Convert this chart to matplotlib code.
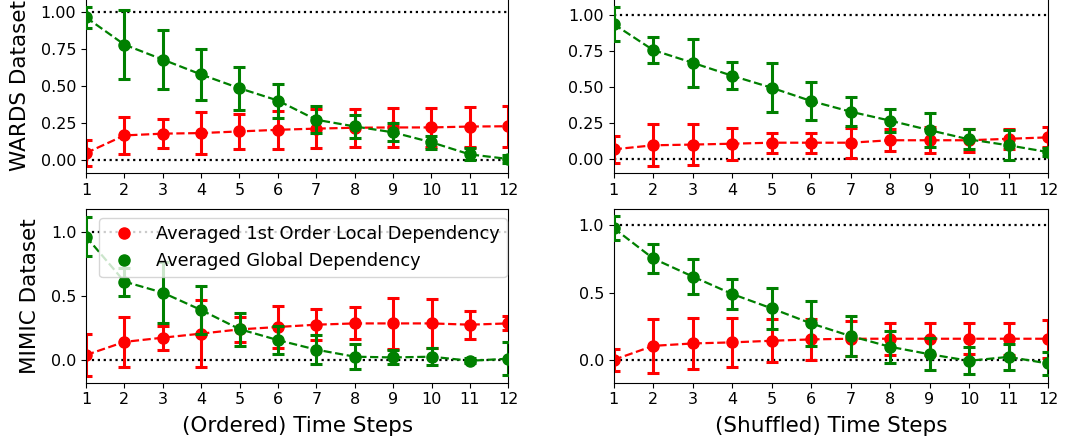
import matplotlib
matplotlib.use('Agg')
import matplotlib.pyplot as plt
from matplotlib.lines import Line2D

steps = list(range(1, 13))

# WARDS, ordered
wards_ord_local = [0.047, 0.166, 0.178, 0.182, 0.193, 0.204, 0.212, 0.218, 0.220, 0.220, 0.226, 0.228]
wards_ord_local_err = [0.09, 0.125, 0.10, 0.14, 0.12, 0.13, 0.13, 0.13, 0.13, 0.13, 0.135, 0.14]
wards_ord_global = [0.964, 0.78, 0.679, 0.578, 0.485, 0.402, 0.272, 0.227, 0.187, 0.12, 0.038, 0.007]
wards_ord_global_err = [0.07, 0.235, 0.20, 0.17, 0.145, 0.115, 0.09, 0.08, 0.06, 0.045, 0.04, 0.03]

# WARDS, shuffled
wards_shuf_local = [0.067, 0.095, 0.10, 0.106, 0.113, 0.113, 0.113, 0.13, 0.13, 0.13, 0.14, 0.15]
wards_shuf_local_err = [0.095, 0.145, 0.14, 0.11, 0.07, 0.07, 0.105, 0.075, 0.09, 0.08, 0.07, 0.07]
wards_shuf_global = [0.935, 0.755, 0.667, 0.577, 0.494, 0.402, 0.328, 0.266, 0.20, 0.136, 0.095, 0.048]
wards_shuf_global_err = [0.12, 0.09, 0.165, 0.095, 0.17, 0.13, 0.10, 0.08, 0.12, 0.07, 0.105, 0.03]

# MIMIC, ordered
mimic_ord_local = [0.037, 0.14, 0.173, 0.205, 0.238, 0.257, 0.275, 0.285, 0.285, 0.285, 0.275, 0.285]
mimic_ord_local_err = [0.165, 0.195, 0.095, 0.265, 0.10, 0.165, 0.12, 0.125, 0.20, 0.19, 0.11, 0.055]
mimic_ord_global = [0.966, 0.613, 0.526, 0.39, 0.24, 0.154, 0.079, 0.024, 0.018, 0.024, -0.008, 0.008]
mimic_ord_global_err = [0.15, 0.11, 0.24, 0.185, 0.13, 0.11, 0.115, 0.10, 0.055, 0.065, 0.02, 0.13]

# MIMIC, shuffled
mimic_shuf_local = [0.0, 0.104, 0.122, 0.13, 0.142, 0.152, 0.157, 0.157, 0.157, 0.157, 0.157, 0.157]
mimic_shuf_local_err = [0.08, 0.20, 0.19, 0.18, 0.16, 0.155, 0.13, 0.12, 0.12, 0.115, 0.12, 0.14]
mimic_shuf_global = [0.98, 0.754, 0.62, 0.49, 0.383, 0.271, 0.177, 0.097, 0.042, -0.007, 0.022, -0.027]
mimic_shuf_global_err = [0.09, 0.11, 0.13, 0.115, 0.155, 0.165, 0.15, 0.12, 0.118, 0.10, 0.097, 0.085]

legend_labels = ["Averaged 1st Order Local Dependency", "Averaged Global Dependency"]
row_labels = ["WARDS Dataset", "MIMIC Dataset"]
col_labels = ["(Ordered) Time Steps", "(Shuffled) Time Steps"]

W, H = 1065, 444
fig = plt.figure(figsize=(W / 100, H / 100), dpi=100)


def add_axes_px(left, top, right, bottom):
    return fig.add_axes([left / W, 1 - bottom / H, (right - left) / W, (bottom - top) / H])


panels = [
    # (box px, ylim, yticks, data)
    ((86, -2, 508, 173), (-0.088, 1.095), [0.0, 0.25, 0.5, 0.75, 1.0], "{:.2f}",
     wards_ord_local, wards_ord_local_err, wards_ord_global, wards_ord_global_err),
    ((613.7, -2, 1048, 173), (-0.097, 1.116), [0.0, 0.25, 0.5, 0.75, 1.0], "{:.2f}",
     wards_shuf_local, wards_shuf_local_err, wards_shuf_global, wards_shuf_global_err),
    ((86, 209.3, 508.3, 382.7), (-0.18, 1.18), [0.0, 0.5, 1.0], "{:.1f}",
     mimic_ord_local, mimic_ord_local_err, mimic_ord_global, mimic_ord_global_err),
    ((613.7, 209.3, 1048, 382.7), (-0.17, 1.12), [0.0, 0.5, 1.0], "{:.1f}",
     mimic_shuf_local, mimic_shuf_local_err, mimic_shuf_global, mimic_shuf_global_err),
]

axes = []
for i, (box, ylim, yt, fmt, lv, le, gv, ge) in enumerate(panels):
    ax = add_axes_px(*box)
    axes.append(ax)
    ax.axhline(1.0, color='black', linestyle=':', linewidth=1.6, zorder=1)
    ax.axhline(0.0, color='black', linestyle=':', linewidth=1.6, zorder=1)
    ax.errorbar(steps, lv, yerr=le, color='red', fmt='o', linestyle='--', linewidth=1.6,
                markersize=8, elinewidth=2.2, capsize=4, capthick=2.2, zorder=2)
    ax.errorbar(steps, gv, yerr=ge, color='green', fmt='o', linestyle='--', linewidth=1.6,
                markersize=8, elinewidth=2.2, capsize=4, capthick=2.2, zorder=3)
    ax.set_xlim(1, 12)
    ax.set_xticks(steps)
    ax.set_ylim(*ylim)
    ax.set_yticks(yt)
    ax.set_yticklabels([fmt.format(v) for v in yt])
    ax.tick_params(labelsize=11.5)
    if i % 2 == 0:
        ax.set_ylabel(row_labels[i // 2], fontsize=15.5, labelpad=8)
    if i >= 2:
        ax.set_xlabel(col_labels[i - 2], fontsize=15.5, labelpad=6)

handles = [Line2D([], [], color='red', marker='o', linestyle='None', markersize=8),
           Line2D([], [], color='green', marker='o', linestyle='None', markersize=8)]
axes[2].legend(handles, legend_labels, loc='upper right', bbox_to_anchor=(0.997, 0.95),
               fontsize=12.8, borderaxespad=0.0, framealpha=0.8)

fig.savefig('out.png', dpi=100)
